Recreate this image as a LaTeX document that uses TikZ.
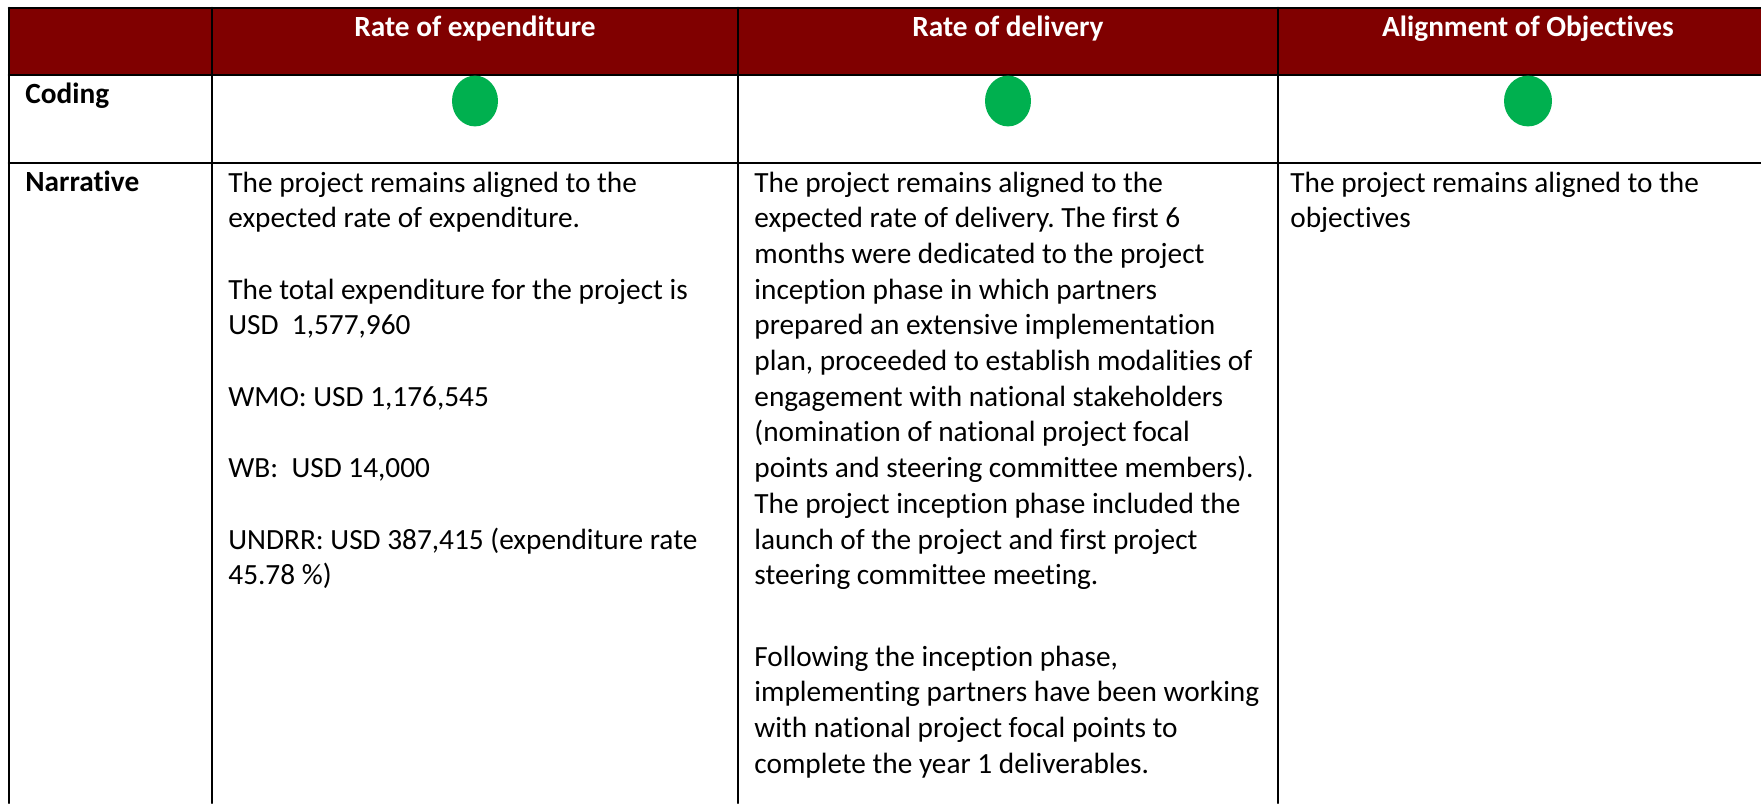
\documentclass[tikz,border=0pt]{standalone}
\usepackage{fontspec}
\setmainfont{Carlito}[Ligatures=CommonOff]
\usepackage{tikz}
\definecolor{ttqqqq}{rgb}{0.5,0.,0.}
\definecolor{qqaatt}{rgb}{0.,0.69,0.31}
\frenchspacing
\newcommand{\bodyfont}{\fontsize{14.65pt}{17.85pt}\selectfont}
\newcommand{\cellrows}[1]{\begin{tabular}[t]{@{}l@{}}#1\end{tabular}}
\tikzset{
  celltext/.style={anchor=base west,inner sep=0pt,font=\bodyfont},
  headtext/.style={anchor=base,inner sep=0pt,text=white,font=\bodyfont\bfseries},
  rowtext/.style={anchor=base west,inner sep=0pt,font=\bodyfont\bfseries},
  rule/.style={line width=1.3pt}
}
\begin{document}
\begin{tikzpicture}[line cap=round,line join=round,x=0.5pt,y=-0.5pt]
\useasboundingbox (0,0) rectangle (1761,803);
\fill[ttqqqq] (9,8) rectangle (1761,75);
% grid
\draw [rule] (9,8)-- (1761,8);
\draw [rule] (9,75)-- (1761,75);
\draw [rule] (9,163)-- (1761,163);
\draw [rule] (9,8)-- (9,803);
\draw [rule] (212,8)-- (212,803);
\draw [rule] (738,8)-- (738,803);
\draw [rule] (1278,8)-- (1278,803);
% header
\node [headtext] (hexp) at (475,36) {Rate of expenditure};
\node [headtext] (hdel) at (1008,36) {Rate of delivery};
\node [headtext] (hobj) at (1528,36) {Alignment of Objectives};
\node [rowtext] (coding) at (25,103) {Coding};
\node [rowtext] (narr) at (25,191) {Narrative};
% coding dots
\fill [qqaatt] (475,101) ellipse [x radius=11.5pt,y radius=12.7pt];
\fill [qqaatt] (1008,101) ellipse [x radius=11.5pt,y radius=12.7pt];
\fill [qqaatt] (1528,101) ellipse [x radius=12pt,y radius=12.7pt];
% narrative
\node [celltext] (nexp) at (228,192) {\cellrows{The project remains aligned to the\\
expected rate of expenditure.\\[17.85pt]
The total expenditure for the project is\\
USD\ \ 1,577,960\\[17.85pt]
WMO: USD 1,176,545\\[17.85pt]
WB:\ \ USD 14,000\\[17.85pt]
UNDRR: USD 387,415 (expenditure rate\\
45.78 \%)}};
\node [celltext] (ndel) at (754,192) {\cellrows{The project remains aligned to the\\
expected rate of delivery. The first 6\\
months were dedicated to the project\\
inception phase in which partners\\
prepared an extensive implementation\\
plan, proceeded to establish modalities of\\
engagement with national stakeholders\\
(nomination of national project focal\\
points and steering committee members).\\
The project inception phase included the\\
launch of the project and first project\\
steering committee meeting.\\[22.85pt]
Following the inception phase,\\
implementing partners have been working\\
with national project focal points to\\
complete the year 1 deliverables.}};
\node [celltext] (nobj) at (1290,192) {\cellrows{The project remains aligned to the\\
objectives}};
\end{tikzpicture}
\end{document}
